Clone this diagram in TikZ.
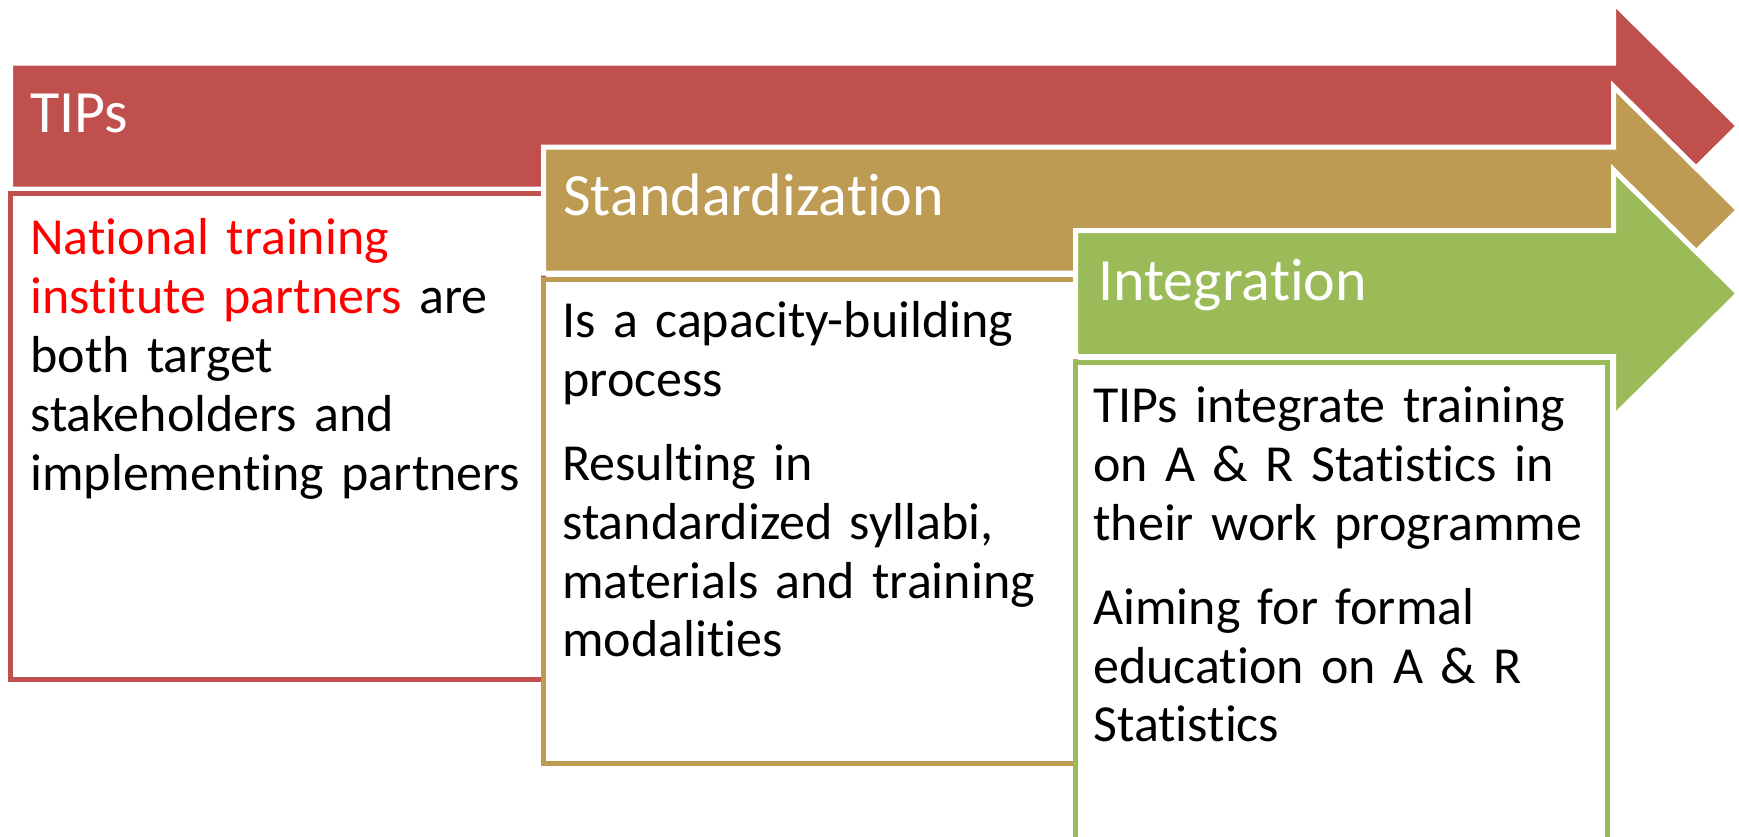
\documentclass[tikz,border=0pt]{standalone}
\usepackage{fontspec}
\setmainfont{Carlito}[Ligatures=NoCommon]
\usetikzlibrary{positioning}
\definecolor{clrRed}{HTML}{C0504D}
\definecolor{clrTan}{HTML}{BE9B53}
\definecolor{clrGreen}{HTML}{9BBB59}
\definecolor{clrHighlight}{HTML}{FF0000}
\tikzstyle{arrow_style}=[draw=white, line width=2.5pt, line join=miter]
\tikzstyle{title_style}=[anchor=base west, inner sep=0pt, text=white, font=\fontsize{30}{36}\selectfont]
\tikzstyle{box_style}=[draw, line width=2.5pt, fill=white, anchor=north west, inner sep=0pt, outer sep=0pt]
\tikzstyle{body_style}=[anchor=north west, inner sep=0pt, align=left, font=\fontsize{26}{29.4}\selectfont]

\begin{document}
\begin{tikzpicture}[x=0.5pt, y=-0.5pt]
		\useasboundingbox (0,0) rectangle (1739,836);
		\clip (0,0) rectangle (1739,836);

		% stage 1 : TIPs
		\draw[arrow_style, fill=clrRed] (10.5,63) -- (1613.5,63) -- (1613.5,2.5) -- (1738.5,126)
			-- (1613.5,249.5) -- (1613.5,189) -- (10.5,189) -- cycle;
		\node[title_style] (tipsTitle) at (30,132) {TIPs};
		\node[box_style, draw=clrRed, minimum width=266.5pt, minimum height=243pt] (tipsBox) at (10.5,193.5) {};
		\node[body_style, text width=250pt] (tipsText) at (30,213.4)
			{\strut\textcolor{clrHighlight}{National training}\\
			\textcolor{clrHighlight}{institute partners} are\\
			both target\\
			stakeholders and\\
			implementing partners};

		% stage 2 : standardization
		\draw[arrow_style, fill=clrTan] (543.5,147) -- (1613.5,147) -- (1613.5,86.5) -- (1738.5,210)
			-- (1613.5,333.5) -- (1613.5,273) -- (543.5,273) -- cycle;
		\node[title_style] (stdTitle) at (563,215) {Standardization};
		\node[box_style, draw=clrTan, minimum width=266pt, minimum height=242pt] (stdBox) at (543.5,279.5) {};
		\node[body_style, text width=250pt] (stdText) at (562,296.4)
			{\strut Is a capacity-building\\
			process\\[12.5pt]
			Resulting in\\
			standardized syllabi,\\
			materials and training\\
			modalities};

		% stage 3 : integration
		\draw[arrow_style, fill=clrGreen] (1075.5,230.5) -- (1613.5,230.5) -- (1613.5,170) -- (1738.5,293.5)
			-- (1613.5,417) -- (1613.5,356.5) -- (1075.5,356.5) -- cycle;
		\node[title_style] (intTitle) at (1098,300) {Integration};
		\node[box_style, draw=clrGreen, minimum width=266pt, minimum height=250pt] (intBox) at (1075.5,362.5) {};
		\node[body_style, text width=255pt] (intText) at (1093,381.4)
			{\strut TIPs integrate training\\
			on A \& R Statistics in\\
			their work programme\\[12.5pt]
			Aiming for formal\\
			education on A \& R\\
			Statistics};
\end{tikzpicture}
\end{document}
